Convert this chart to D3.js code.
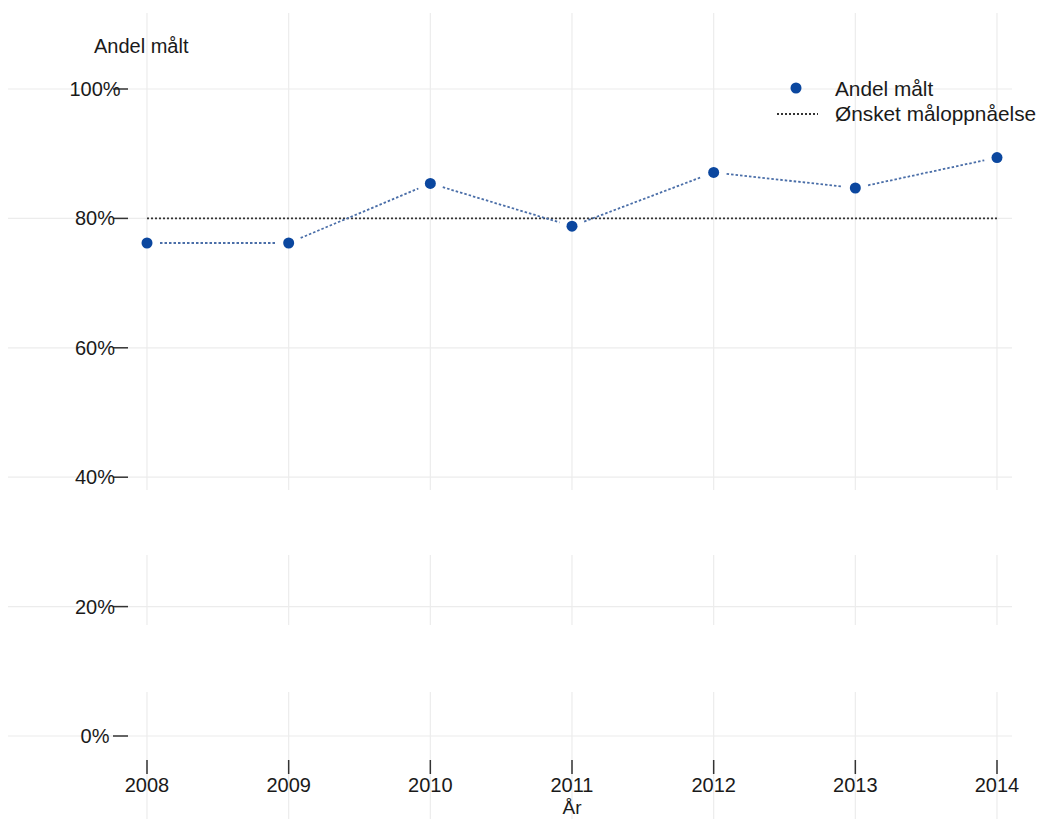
<!DOCTYPE html>
<html><head><meta charset="utf-8">
<script src="https://cdn.jsdelivr.net/npm/d3@7"></script>
<style>body{margin:0;background:#fff;} svg{display:block;} text{font-family:"Liberation Sans",Arial,sans-serif;fill:#1a1a1a;}</style>
</head><body>
<svg id="c" width="1040" height="819"></svg>
<script>
const years = [2008, 2009, 2010, 2011, 2012, 2013, 2014];
const andelMalt = [0.762, 0.762, 0.854, 0.788, 0.871, 0.847, 0.894];
const target = 0.80;
const yTicks = [0, 0.2, 0.4, 0.6, 0.8, 1.0];
const legendLabels = ["Andel målt", "Ønsket måloppnåelse"];

const svg = d3.select("#c");
const x = d3.scaleLinear().domain([2008, 2014]).range([147, 997]);
const y = d3.scaleLinear().domain([0, 1]).range([736, 89]);
const fmt = d3.format(".0%");

// grid
const grid = svg.append("g");
grid.selectAll("line.h").data(yTicks).join("line")
  .attr("x1", 8).attr("x2", 1012).attr("y1", d => y(d)).attr("y2", d => y(d))
  .attr("stroke", "#ececec").attr("stroke-width", 1.2);
const segs = [[13, 490], [555, 625], [692, 819]];
years.forEach(yr => {
  segs.forEach(s => {
    grid.append("line").attr("x1", x(yr)).attr("x2", x(yr)).attr("y1", s[0]).attr("y2", s[1])
      .attr("stroke", "#ececec").attr("stroke-width", 1.2);
  });
});

// y axis
const ya = svg.append("g");
yTicks.forEach(t => {
  ya.append("line").attr("x1", 113).attr("x2", 128).attr("y1", y(t)).attr("y2", y(t))
    .attr("stroke", "#333").attr("stroke-width", 1.5);
  ya.append("text").attr("x", 95).attr("y", y(t) + 7).attr("text-anchor", "middle")
    .attr("font-size", 20).text(fmt(t));
});
// x axis
const xa = svg.append("g");
years.forEach(yr => {
  xa.append("line").attr("x1", x(yr)).attr("x2", x(yr)).attr("y1", 760).attr("y2", 774)
    .attr("stroke", "#333").attr("stroke-width", 1.5);
  xa.append("text").attr("x", x(yr)).attr("y", 792).attr("text-anchor", "middle")
    .attr("font-size", 20).text(yr);
});
svg.append("text").attr("x", (x(2008) + x(2014)) / 2).attr("y", 814).attr("text-anchor", "middle")
  .attr("font-size", 19).text("År");
svg.append("text").attr("x", 94).attr("y", 53).attr("font-size", 20).text("Andel målt");

// target line
svg.append("line").attr("x1", x(2008)).attr("x2", x(2014)).attr("y1", y(target)).attr("y2", y(target))
  .attr("stroke", "#333").attr("stroke-width", 1.8).attr("stroke-dasharray", "2,2");

// data line segments with gaps near points
const gap = 13;
for (let i = 0; i < years.length - 1; i++) {
  const x0 = x(years[i]), y0 = y(andelMalt[i]), x1 = x(years[i + 1]), y1 = y(andelMalt[i + 1]);
  const dx = x1 - x0, dy = y1 - y0, L = Math.hypot(dx, dy);
  svg.append("line")
    .attr("x1", x0 + dx / L * gap).attr("y1", y0 + dy / L * gap)
    .attr("x2", x1 - dx / L * gap).attr("y2", y1 - dy / L * gap)
    .attr("stroke", "#4a6ea8").attr("stroke-width", 1.8).attr("stroke-dasharray", "2.5,2");
}
svg.selectAll("circle.p").data(years).join("circle")
  .attr("cx", d => x(d)).attr("cy", (d, i) => y(andelMalt[i])).attr("r", 5.5)
  .attr("fill", "#0b479f");

// legend
svg.append("circle").attr("cx", 796).attr("cy", 88).attr("r", 5.5).attr("fill", "#0b479f");
svg.append("text").attr("x", 835).attr("y", 96).attr("font-size", 20.8).text(legendLabels[0]);
svg.append("line").attr("x1", 777).attr("x2", 818).attr("y1", 114).attr("y2", 114)
  .attr("stroke", "#333").attr("stroke-width", 1.8).attr("stroke-dasharray", "2,2");
svg.append("text").attr("x", 835).attr("y", 121).attr("font-size", 20.8).text(legendLabels[1]);
</script>
</body></html>
